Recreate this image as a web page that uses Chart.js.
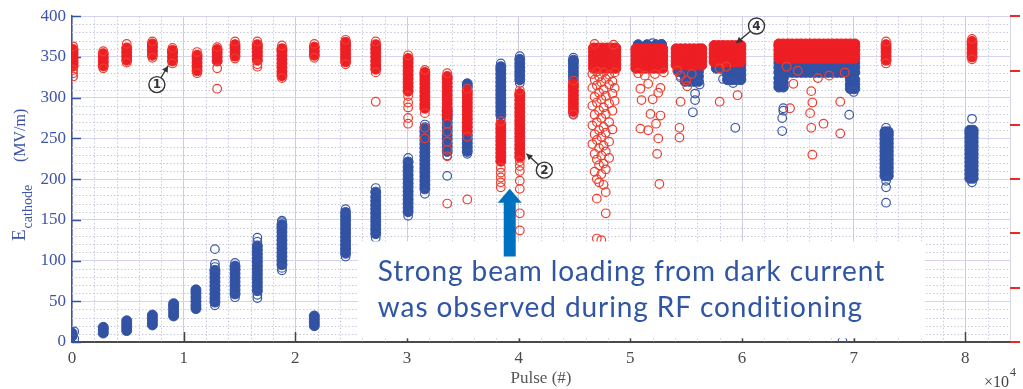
<!DOCTYPE html>
<html>
<head>
<meta charset="utf-8">
<script src="https://cdn.jsdelivr.net/npm/chart.js@4.4.0/dist/chart.umd.min.js"></script>
<style>
  html, body { margin: 0; padding: 0; background: #fff; }
  #wrap { width: 1023px; height: 389px; }
</style>
</head>
<body>
<div id="wrap"><canvas id="pulseChart"></canvas></div>
<script>
// x = pulse number in units of 10^4, y = E cathode in MV/m
// each entry: [x (or several x), [y values]]
const xTicks = [0, 1, 2, 3, 4, 5, 6, 7, 8];
const yTicks = [0, 50, 100, 150, 200, 250, 300, 350, 400];
const wideBlock = [6.33, 6.37, 6.41, 6.45, 6.49, 6.53, 6.57, 6.61, 6.65, 6.69, 6.73, 6.77, 6.81, 6.85, 6.89, 6.93, 6.97, 7.01];

const blueCore = [
  [0.00, [7, 11]],
  [0.28, [11, 15, 18]],
  [0.49, [14, 18, 22, 26]],
  [0.72, [21, 25, 29, 33]],
  [0.91, [32, 36, 40, 44, 47]],
  [1.11, [41, 45, 50, 55, 60, 64]],
  [1.28, [49, 54, 59, 64, 69, 74, 79, 84, 88]],
  [1.46, [59, 64, 69, 74, 79, 84, 89, 93]],
  [1.66, [63, 68, 73, 78, 83, 88, 93, 98, 103, 108, 113, 118]],
  [1.88, [95, 100, 105, 110, 115, 120, 125, 130, 135, 140, 144]],
  [2.17, [20, 24, 28, 32]],
  [2.45, [109, 114, 119, 124, 129, 134, 139, 144, 149, 154, 159]],
  [2.72, [133, 138, 143, 148, 153, 158, 163, 168, 173, 178, 184]],
  [3.01, [160, 165, 170, 175, 180, 185, 190, 195, 200, 205, 210, 215, 221]],
  [3.16, [188, 193, 198, 203, 208, 213, 218, 223, 228, 233, 238, 243, 248, 253, 258, 263]],
  [3.36, [234, 239, 244, 249, 254, 259, 264, 269, 274, 279, 284]],
  [3.54, [234, 239, 244, 249, 254, 313, 317]],
  [3.84, [279, 284, 289, 294, 299, 304, 309, 314, 319, 324, 329, 334, 338]],
  [4.01, [322, 327, 332, 337, 342, 347]],
  [4.49, [322, 327, 332, 337, 342, 346]],
  [[5.07, 5.15, 5.23, 5.28], [340, 347, 354, 361, 365]],
  [[5.49, 5.53, 5.57, 5.61], [320, 326, 332, 337]],
  [[5.43, 5.46], [332, 337]],
  [[5.87, 5.91, 5.95, 5.99], [322, 328, 334, 340]],
  [[5.77, 5.81], [336, 341]],
  [wideBlock, [331, 337, 343]],
  [[6.33, 6.37], [313, 318, 324]],
  [[6.97, 7.01], [311, 316, 322]],
  [[7.28, 7.31], [204, 209, 214, 219, 224, 229, 234, 239, 244, 249, 254, 258]],
  [[8.04, 8.07], [201, 206, 211, 216, 221, 226, 231, 236, 241, 246, 251, 256, 260]],
];

const blueOpen = [
  [0.02, [4, 13]],
  [1.28, [45, 92, 96, 114]],
  [1.46, [55, 97]],
  [1.66, [54, 58, 123, 128]],
  [1.88, [88, 91, 147, 149]],
  [2.45, [105, 163]],
  [2.72, [128, 189]],
  [3.01, [155, 226]],
  [3.16, [182, 267]],
  [3.36, [204, 229, 288]],
  [3.54, [231, 308]],
  [3.84, [275, 342]],
  [4.01, [318, 351]],
  [4.49, [280, 349]],
  [5.20, [367]], [5.28, [366]],
  [5.58, [305, 297]], [5.56, [282]], [5.45, [325]], [5.62, [316]],
  [5.83, [323]], [5.92, [318]], [5.94, [263]],
  [6.37, [287, 284]], [6.36, [275, 259]], [6.96, [279]], [7.00, [307]],
  [6.90, [1]],
  [7.29, [263, 198, 190, 171]],
  [8.06, [196, 274]],
];

const redCore = [
  [0.01, [339, 344, 349, 354, 359]],
  [0.28, [339, 344, 349, 354]],
  [0.49, [346, 351, 356, 361]],
  [0.72, [352, 357, 362, 366]],
  [0.90, [345, 350, 355, 358]],
  [1.12, [333, 338, 343, 348, 352]],
  [1.30, [345, 350, 355, 359]],
  [1.46, [351, 356, 361, 365]],
  [1.66, [346, 351, 356, 361, 365]],
  [1.88, [327, 332, 337, 342, 347, 352, 357, 360]],
  [2.17, [352, 357, 362]],
  [2.45, [344, 349, 354, 359, 364, 368]],
  [2.72, [335, 340, 345, 350, 355, 360, 365]],
  [3.01, [308, 313, 318, 323, 328, 333, 338, 343, 348]],
  [3.16, [287, 292, 297, 302, 307, 312, 317, 322, 327, 331]],
  [3.36, [278, 283, 288, 293, 298, 303, 308, 313, 318, 323, 326]],
  [3.54, [259, 264, 269, 274, 279, 284, 289, 294, 299, 304, 308]],
  [3.84, [222, 227, 232, 237, 242, 247, 252, 257, 262, 267]],
  [4.01, [227, 232, 237, 242, 247, 252, 257, 262, 267, 272, 277, 282, 287, 292, 297, 302, 305]],
  [4.49, [283, 288, 293, 298, 303, 308, 313, 317]],
  [[4.67, 4.71, 4.75, 4.79, 4.83, 4.87], [336, 341, 346, 351, 356, 361]],
  [[5.05, 5.09, 5.13, 5.17, 5.21, 5.25, 5.29], [336, 341, 346, 351, 356, 360]],
  [[5.41, 5.45, 5.49, 5.53, 5.57, 5.61, 5.64], [340, 345, 350, 355, 360]],
  [[5.75, 5.79, 5.83, 5.87, 5.91, 5.95, 5.99], [344, 349, 354, 359, 364]],
  [wideBlock, [348, 353, 358, 363, 366]],
  [7.29, [346, 351, 356, 361, 365]],
  [8.06, [350, 355, 360, 365, 369]],
];

const redOpen = [
  [0.01, [363, 334, 330, 326]],
  [0.28, [357, 336]],
  [0.49, [366, 343]],
  [0.72, [369, 349]],
  [0.90, [361, 342]],
  [1.12, [356, 330]],
  [1.30, [362, 336, 311]],
  [1.46, [369, 348]],
  [1.66, [369, 341, 338]],
  [1.88, [364, 324]],
  [2.17, [366, 349]],
  [2.45, [371, 341]],
  [2.72, [369, 331, 295]],
  [3.01, [352, 302, 294, 288, 275, 268]],
  [3.16, [334, 281, 263, 250]],
  [3.36, [330, 268, 258, 246, 236, 228, 170]],
  [3.54, [311, 252, 175]],
  [3.84, [271, 214, 208, 202, 196, 190]],
  [4.01, [309, 222, 216, 210, 198, 188, 158, 137]],
  [4.49, [321, 279]],
  [4.66, [329, 312, 290, 266, 243]],
  [4.68, [322, 301, 279, 255, 231, 209]],
  [4.70, [332, 315, 294, 270, 248, 224, 200, 176, 127]],
  [4.72, [326, 306, 284, 260, 238, 217, 196]],
  [4.74, [319, 298, 275, 252, 229, 206, 125]],
  [4.76, [331, 310, 288, 264, 241, 219, 193]],
  [4.78, [323, 302, 280, 257, 234, 212, 184, 158]],
  [4.81, [328, 316, 293, 270, 246, 226]],
  [4.84, [320, 305, 284, 261]],
  [4.86, [331, 312, 296]],
  [4.68, [366]], [4.85, [365]],
  [5.09, [311, 262]], [5.10, [297]], [5.16, [317, 260]], [5.18, [280]], [5.20, [298]],
  [5.23, [268]], [5.25, [306, 250]], [5.24, [231]], [5.26, [194]], [5.27, [312, 278]],
  [5.07, [330]], [5.13, [327]], [5.22, [329]], [5.30, [331]],
  [5.42, [333]], [5.45, [327, 295]], [5.50, [321]], [5.51, [314]], [5.55, [329]], [5.44, [263, 251]],
  [5.80, [295, 336]], [5.96, [303]], [5.86, [338]],
  [6.46, [317]], [6.62, [308, 263]], [6.63, [294, 230]], [6.43, [287]], [6.61, [281]],
  [6.73, [268]], [6.88, [295, 256]], [6.68, [324]], [6.50, [333]], [6.78, [327]],
  [6.92, [331]], [6.40, [338]],
  [7.29, [369, 342]],
  [8.06, [372, 347]],
];

// circled labels: centre and arrow tip, in data units
const marks = [
  { text: '1', at: [0.76, 316], tip: [0.86, 339] },
  { text: '2', at: [4.23, 211], tip: [4.07, 231] },
  { text: '4', at: [6.13, 388], tip: [5.95, 367] },
];
const noteLines = ['Strong beam loading from dark current', 'was observed during RF conditioning'];

const RED = 'rgb(237,30,36)';
const RED_O = 'rgb(240,62,46)';
const BLUE = 'rgb(50,82,164)';
const BLUE_O = 'rgb(58,88,168)';

function toPoints(cols) {
  const pts = [];
  cols.forEach(([xs, ys]) => {
    (Array.isArray(xs) ? xs : [xs]).forEach(x => ys.forEach(y => pts.push({ x: x, y: y })));
  });
  return pts;
}

function arrowHead(ctx, x0, y0, x1, y1, len, half) {
  const ang = Math.atan2(y1 - y0, x1 - x0);
  ctx.beginPath();
  ctx.moveTo(x1, y1);
  ctx.lineTo(x1 - len * Math.cos(ang) + half * Math.sin(ang), y1 - len * Math.sin(ang) - half * Math.cos(ang));
  ctx.lineTo(x1 - len * Math.cos(ang) - half * Math.sin(ang), y1 - len * Math.sin(ang) + half * Math.cos(ang));
  ctx.closePath();
  ctx.fill();
}

const decor = {
  id: 'decor',
  beforeDatasetsDraw(chart) {
    const { ctx, chartArea: a, scales: { x, y } } = chart;
    ctx.save();
    // minor dotted grid
    ctx.strokeStyle = 'rgb(200,200,222)';
    ctx.lineWidth = 1;
    ctx.setLineDash([1.5, 2]);
    for (let i = 1; i < 42; i++) {
      if (i % 5 === 0) continue;
      const px = Math.round(x.getPixelForValue(i * 0.2)) + 0.5;
      ctx.beginPath(); ctx.moveTo(px, a.top); ctx.lineTo(px, a.bottom); ctx.stroke();
    }
    for (let i = 1; i < 40; i++) {
      if (i % 5 === 0) continue;
      const py = Math.round(y.getPixelForValue(i * 10)) + 0.5;
      ctx.beginPath(); ctx.moveTo(a.left, py); ctx.lineTo(a.right, py); ctx.stroke();
    }
    ctx.setLineDash([]);
    // right edge
    ctx.strokeStyle = 'rgb(215,215,232)';
    ctx.beginPath(); ctx.moveTo(a.right + 0.5, a.top); ctx.lineTo(a.right + 0.5, a.bottom); ctx.stroke();
    // inner tick marks
    ctx.strokeStyle = BLUE;
    ctx.lineWidth = 1.5;
    yTicks.forEach(v => {
      const py = Math.round(y.getPixelForValue(v)) + 0.5;
      ctx.beginPath(); ctx.moveTo(a.left, py); ctx.lineTo(a.left + 9, py); ctx.stroke();
    });
    ctx.strokeStyle = '#444';
    xTicks.forEach(v => {
      const px = Math.round(x.getPixelForValue(v)) + 0.5;
      ctx.beginPath(); ctx.moveTo(px, a.bottom); ctx.lineTo(px, a.bottom - 10); ctx.stroke();
    });
    ctx.restore();
  },
  afterDatasetsDraw(chart) {
    const { ctx, scales: { x, y } } = chart;
    ctx.save();
    // white text box
    const bx0 = x.getPixelForValue(2.56), bx1 = x.getPixelForValue(7.64);
    const by0 = y.getPixelForValue(123.5), by1 = y.getPixelForValue(4.5);
    ctx.fillStyle = '#fff';
    ctx.fillRect(bx0, by0, bx1 - bx0, by1 - by0);
    ctx.fillStyle = 'rgb(47,85,165)';
    ctx.font = '28px Lato';
    ctx.letterSpacing = '0.9px';
    ctx.textBaseline = 'alphabetic';
    ctx.fillText(noteLines[0], bx0 + 20, by0 + 40);
    ctx.fillText(noteLines[1], bx0 + 20, by0 + 76);
    ctx.letterSpacing = '0px';
    // blue arrow
    const ax = x.getPixelForValue(3.92);
    const tipY = y.getPixelForValue(188), baseY = y.getPixelForValue(105);
    ctx.fillStyle = 'rgb(0,112,192)';
    ctx.beginPath();
    ctx.moveTo(ax, tipY);
    ctx.lineTo(ax + 12, tipY + 14);
    ctx.lineTo(ax + 6, tipY + 14);
    ctx.lineTo(ax + 6, baseY);
    ctx.lineTo(ax - 6, baseY);
    ctx.lineTo(ax - 6, tipY + 14);
    ctx.lineTo(ax - 12, tipY + 14);
    ctx.closePath();
    ctx.fill();
    // circled numbers with small arrows
    marks.forEach(m => {
      const cx = x.getPixelForValue(m.at[0]), cy = y.getPixelForValue(m.at[1]);
      const tx = x.getPixelForValue(m.tip[0]), ty = y.getPixelForValue(m.tip[1]);
      const ang = Math.atan2(ty - cy, tx - cx);
      ctx.strokeStyle = '#333';
      ctx.fillStyle = '#333';
      ctx.lineWidth = 1.4;
      ctx.beginPath(); ctx.arc(cx, cy, 8, 0, Math.PI * 2); ctx.stroke();
      ctx.beginPath();
      ctx.moveTo(cx + 8 * Math.cos(ang), cy + 8 * Math.sin(ang));
      ctx.lineTo(tx, ty);
      ctx.stroke();
      arrowHead(ctx, cx, cy, tx, ty, 6, 3.2);
      ctx.font = 'bold 12px "DejaVu Sans"';
      ctx.textAlign = 'center';
      ctx.textBaseline = 'middle';
      ctx.fillText(m.text, cx, cy + 0.5);
    });
    ctx.restore();
  },
  afterDraw(chart) {
    const { ctx, chartArea: a } = chart;
    ctx.save();
    // red ticks of the right axis
    ctx.strokeStyle = 'rgb(235,40,40)';
    ctx.lineWidth = 2;
    for (let i = 0; i <= 6; i++) {
      const py = Math.round(a.top + (a.bottom - a.top) * i / 6);
      ctx.beginPath(); ctx.moveTo(a.right, py); ctx.lineTo(a.right + 10, py); ctx.stroke();
    }
    // y axis title with subscript
    ctx.fillStyle = 'rgb(62,84,170)';
    ctx.translate(25, 241);
    ctx.rotate(-Math.PI / 2);
    ctx.textBaseline = 'alphabetic';
    ctx.font = '19px "Liberation Serif"';
    ctx.fillText('E', 0, 0);
    const ew = ctx.measureText('E').width;
    ctx.font = '14px "Liberation Serif"';
    ctx.fillText('cathode', ew + 1, 7);
    ctx.font = '16px "Liberation Serif"';
    ctx.fillText('(MV/m)', 79, 0);
    ctx.restore();
    // x10^4
    ctx.save();
    ctx.fillStyle = '#444';
    ctx.font = '16px "Liberation Serif"';
    ctx.fillText('\u00d710', 984, 387);
    const w10 = ctx.measureText('\u00d710').width;
    ctx.font = '12px "Liberation Serif"';
    ctx.fillText('4', 985 + w10, 376);
    ctx.restore();
  }
};

const ctx = document.getElementById('pulseChart').getContext('2d');
const pointStyle = (color, fill, r, w) => ({
  showLine: false,
  pointRadius: r,
  pointHoverRadius: r,
  borderWidth: w,
  borderColor: color,
  backgroundColor: fill,
});

const pulseChart = new Chart(ctx, {
  type: 'scatter',
  data: {
    datasets: [
      Object.assign({ label: 'red open', data: toPoints(redOpen) }, pointStyle(RED_O, 'rgba(0,0,0,0)', 4.3, 1.2)),
      Object.assign({ label: 'red', data: toPoints(redCore) }, pointStyle(RED, RED, 5, 1)),
      Object.assign({ label: 'blue open', data: toPoints(blueOpen) }, pointStyle(BLUE_O, 'rgba(0,0,0,0)', 4.3, 1.2)),
      Object.assign({ label: 'blue', data: toPoints(blueCore) }, pointStyle(BLUE, BLUE, 5, 1)),
    ],
  },
  options: {
    responsive: true,
    maintainAspectRatio: false,
    devicePixelRatio: 1,
    animation: false,
    layout: { padding: { top: 15, right: 13, left: 0, bottom: 0 } },
    plugins: {
      legend: { display: false },
      tooltip: { enabled: false },
    },
    scales: {
      x: {
        type: 'linear',
        min: 0,
        max: 8.4,
        afterBuildTicks: (s) => { s.ticks = xTicks.map(v => ({ value: v })); },
        afterFit: (s) => { s.height = 47; },
        ticks: {
          color: '#4a4a4a',
          padding: 6,
          font: { family: '"Liberation Serif"', size: 17 },
          maxRotation: 0,
        },
        grid: { color: 'rgb(205,205,215)', drawTicks: false },
        border: { color: '#4a4a4a', width: 2 },
        title: {
          display: true,
          text: 'Pulse (#)',
          color: '#555',
          font: { family: '"Liberation Serif"', size: 17 },
          padding: { top: 0, bottom: 0 },
        },
      },
      y: {
        type: 'linear',
        min: 0,
        max: 400,
        afterBuildTicks: (s) => { s.ticks = yTicks.map(v => ({ value: v })); },
        afterFit: (s) => { s.width = 72; },
        ticks: {
          color: 'rgb(62,84,170)',
          padding: 6,
          font: { family: '"Liberation Serif"', size: 17 },
        },
        grid: { color: 'rgb(212,212,240)', drawTicks: false },
        border: { color: 'rgb(62,84,170)', width: 1.5 },
      },
    },
  },
  plugins: [decor],
});
</script>
</body>
</html>
